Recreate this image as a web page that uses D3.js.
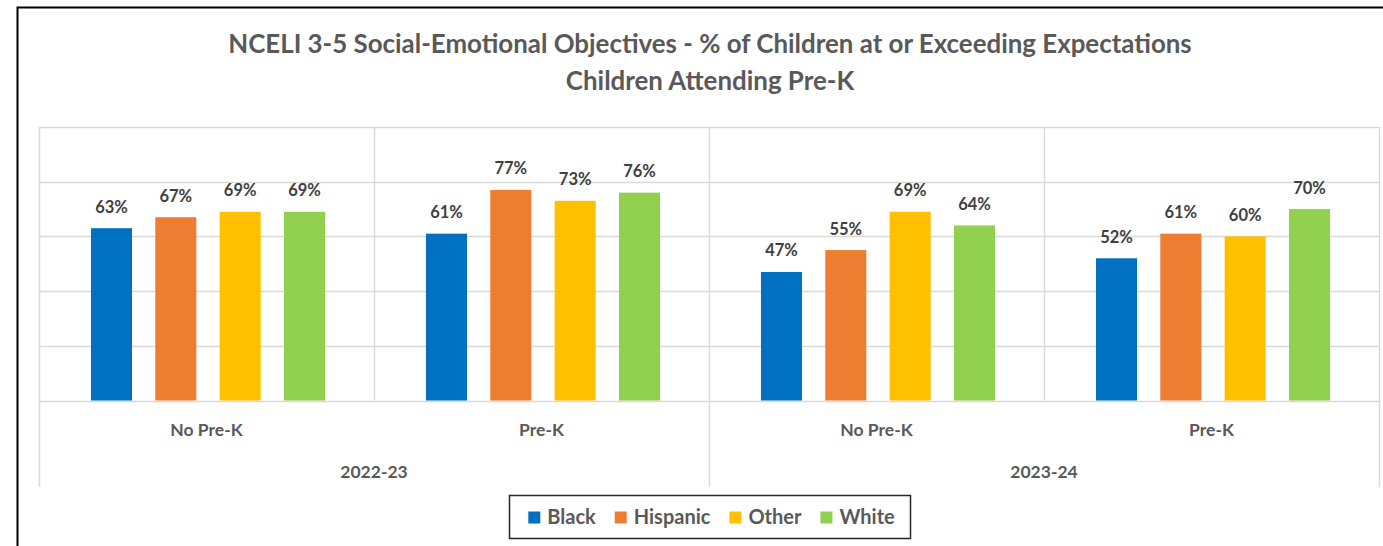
<!DOCTYPE html>
<html><head><meta charset="utf-8">
<script src="https://cdn.jsdelivr.net/npm/d3@7"></script>
<style>body{margin:0;background:#fff;overflow:hidden}</style>
</head><body><svg id="c" width="1383" height="546"></svg>
<script>
// ---- data ----
const titleLines = ["NCELI 3-5 Social-Emotional Objectives - % of Children at or Exceeding Expectations", "Children Attending Pre-K"];
const years = ["2022-23", "2023-24"];
const groups = ["No Pre-K", "Pre-K"];
const series = ["Black", "Hispanic", "Other", "White"];
const black = [63, 61, 47, 52];
const hispanic = [67, 77, 55, 61];
const other = [69, 73, 69, 60];
const white = [69, 76, 64, 70];
const yTicks = [0, 20, 40, 60, 80, 100];
const colors = ["#0070C0", "#ED7D31", "#FFC000", "#92D050"];

// ---- layout ----
const svg = d3.select("#c");
const W = 1383, H = 546;
const plot = {left: 39, right: 1379, top: 127, bottom: 400.5};
const FONT = "Lato, 'Open Sans', sans-serif";
const gridColor = "#d9d9d9";

svg.append("rect").attr("width", W).attr("height", H).attr("fill", "#fff");
// outer chart border (left & top visible)
svg.append("rect").attr("x", 17.5).attr("y", 7.5).attr("width", W + 10).attr("height", H + 10)
  .attr("fill", "none").attr("stroke", "#000").attr("stroke-width", 2);

const cats = [];
years.forEach(y => groups.forEach(g => cats.push(y + "|" + g)));
const valuesBySeries = [black, hispanic, other, white];

const x0 = d3.scaleBand().domain(cats).range([plot.left, plot.right]).padding(0);
const x1 = d3.scaleBand().domain(series).range([0, x0.bandwidth()]).paddingInner(0.362).paddingOuter(0.784);
const y = d3.scaleLinear().domain([0, 100]).range([plot.bottom, plot.top]);

// horizontal gridlines
svg.append("g").selectAll("line").data(yTicks).join("line")
  .attr("x1", plot.left).attr("x2", plot.right)
  .attr("y1", d => Math.round(y(d)) + 0.5).attr("y2", d => Math.round(y(d)) + 0.5)
  .attr("stroke", gridColor).attr("stroke-width", 1.5);
// vertical gridlines at category boundaries
const bounds = cats.map(c => x0(c)).concat([plot.right]);
svg.append("g").selectAll("line").data(bounds).join("line")
  .attr("x1", d => Math.round(d) + 0.5).attr("x2", d => Math.round(d) + 0.5)
  .attr("y1", plot.top).attr("y2", plot.bottom)
  .attr("stroke", gridColor).attr("stroke-width", 1.5);
// year separators below axis
const yearBounds = [x0(cats[0]), x0(cats[2]), plot.right];
svg.append("g").selectAll("line").data(yearBounds).join("line")
  .attr("x1", d => Math.round(d) + 0.5).attr("x2", d => Math.round(d) + 0.5)
  .attr("y1", plot.bottom).attr("y2", 487)
  .attr("stroke", gridColor).attr("stroke-width", 1.5);

// bars
const barData = [];
cats.forEach((c, i) => series.forEach((s, j) => barData.push({c, s, v: valuesBySeries[j][i], color: colors[j]})));
svg.append("g").selectAll("rect").data(barData).join("rect")
  .attr("x", d => x0(d.c) + x1(d.s) + 1.5).attr("width", x1.bandwidth())
  .attr("y", d => y(d.v)).attr("height", d => y(0) - y(d.v))
  .attr("fill", d => d.color);
// data labels
svg.append("g").selectAll("text").data(barData).join("text")
  .attr("x", d => x0(d.c) + x1(d.s) + 1.5 + x1.bandwidth() / 2)
  .attr("y", d => y(d.v) - 15.5)
  .attr("text-anchor", "middle").attr("font-family", FONT).attr("font-weight", 700)
  .attr("font-size", 16.5).attr("fill", "#404040")
  .text(d => d.v + "%");

// category labels
svg.append("g").selectAll("text").data(cats).join("text")
  .attr("x", c => x0(c) + x0.bandwidth() / 2).attr("y", 436)
  .attr("text-anchor", "middle").attr("font-family", FONT).attr("font-weight", 700)
  .attr("font-size", 17.5).attr("fill", "#595959")
  .text(c => c.split("|")[1]);
// year labels
svg.append("g").selectAll("text").data(years).join("text")
  .attr("x", (yr, i) => (x0(cats[i * 2]) + x0(cats[i * 2 + 1]) + x0.bandwidth()) / 2).attr("y", 478)
  .attr("text-anchor", "middle").attr("font-family", FONT).attr("font-weight", 700)
  .attr("font-size", 17.5).attr("fill", "#595959")
  .text(d => d);

// title (fit to reference width)
const tmp = svg.append("text").attr("font-family", FONT).attr("font-weight", 700).attr("font-size", 24).text(titleLines[0]);
const tSize = 24 * 964 / tmp.node().getComputedTextLength();
tmp.remove();
svg.append("g").selectAll("text").data(titleLines).join("text")
  .attr("x", 710).attr("y", (d, i) => 53 + i * 37)
  .attr("text-anchor", "middle").attr("font-family", FONT).attr("font-weight", 700)
  .attr("font-size", tSize).attr("fill", "#595959")
  .text(d => d);

// legend
const lg = {x: 509, y: 495, w: 401, h: 43};
svg.append("rect").attr("x", lg.x + 0.5).attr("y", lg.y + 0.5).attr("width", lg.w).attr("height", lg.h)
  .attr("fill", "#fff").attr("stroke", "#262626").attr("stroke-width", 1.5);
const legG = svg.append("g");
const items = series.map((s, i) => {
  const g = legG.append("g");
  g.append("rect").attr("width", 12).attr("height", 12).attr("y", -12).attr("fill", colors[i]);
  const t = g.append("text").attr("x", 19).attr("font-family", FONT).attr("font-weight", 700)
    .attr("font-size", 20).attr("fill", "#595959").text(s);
  return {g, w: 19 + t.node().getComputedTextLength()};
});
const gap = 19;
const total = d3.sum(items, d => d.w) + gap * (items.length - 1);
let cx = lg.x + (lg.w - total) / 2 + 2;
items.forEach(it => { it.g.attr("transform", `translate(${cx},523.5)`); cx += it.w + gap; });
</script>
</body></html>
